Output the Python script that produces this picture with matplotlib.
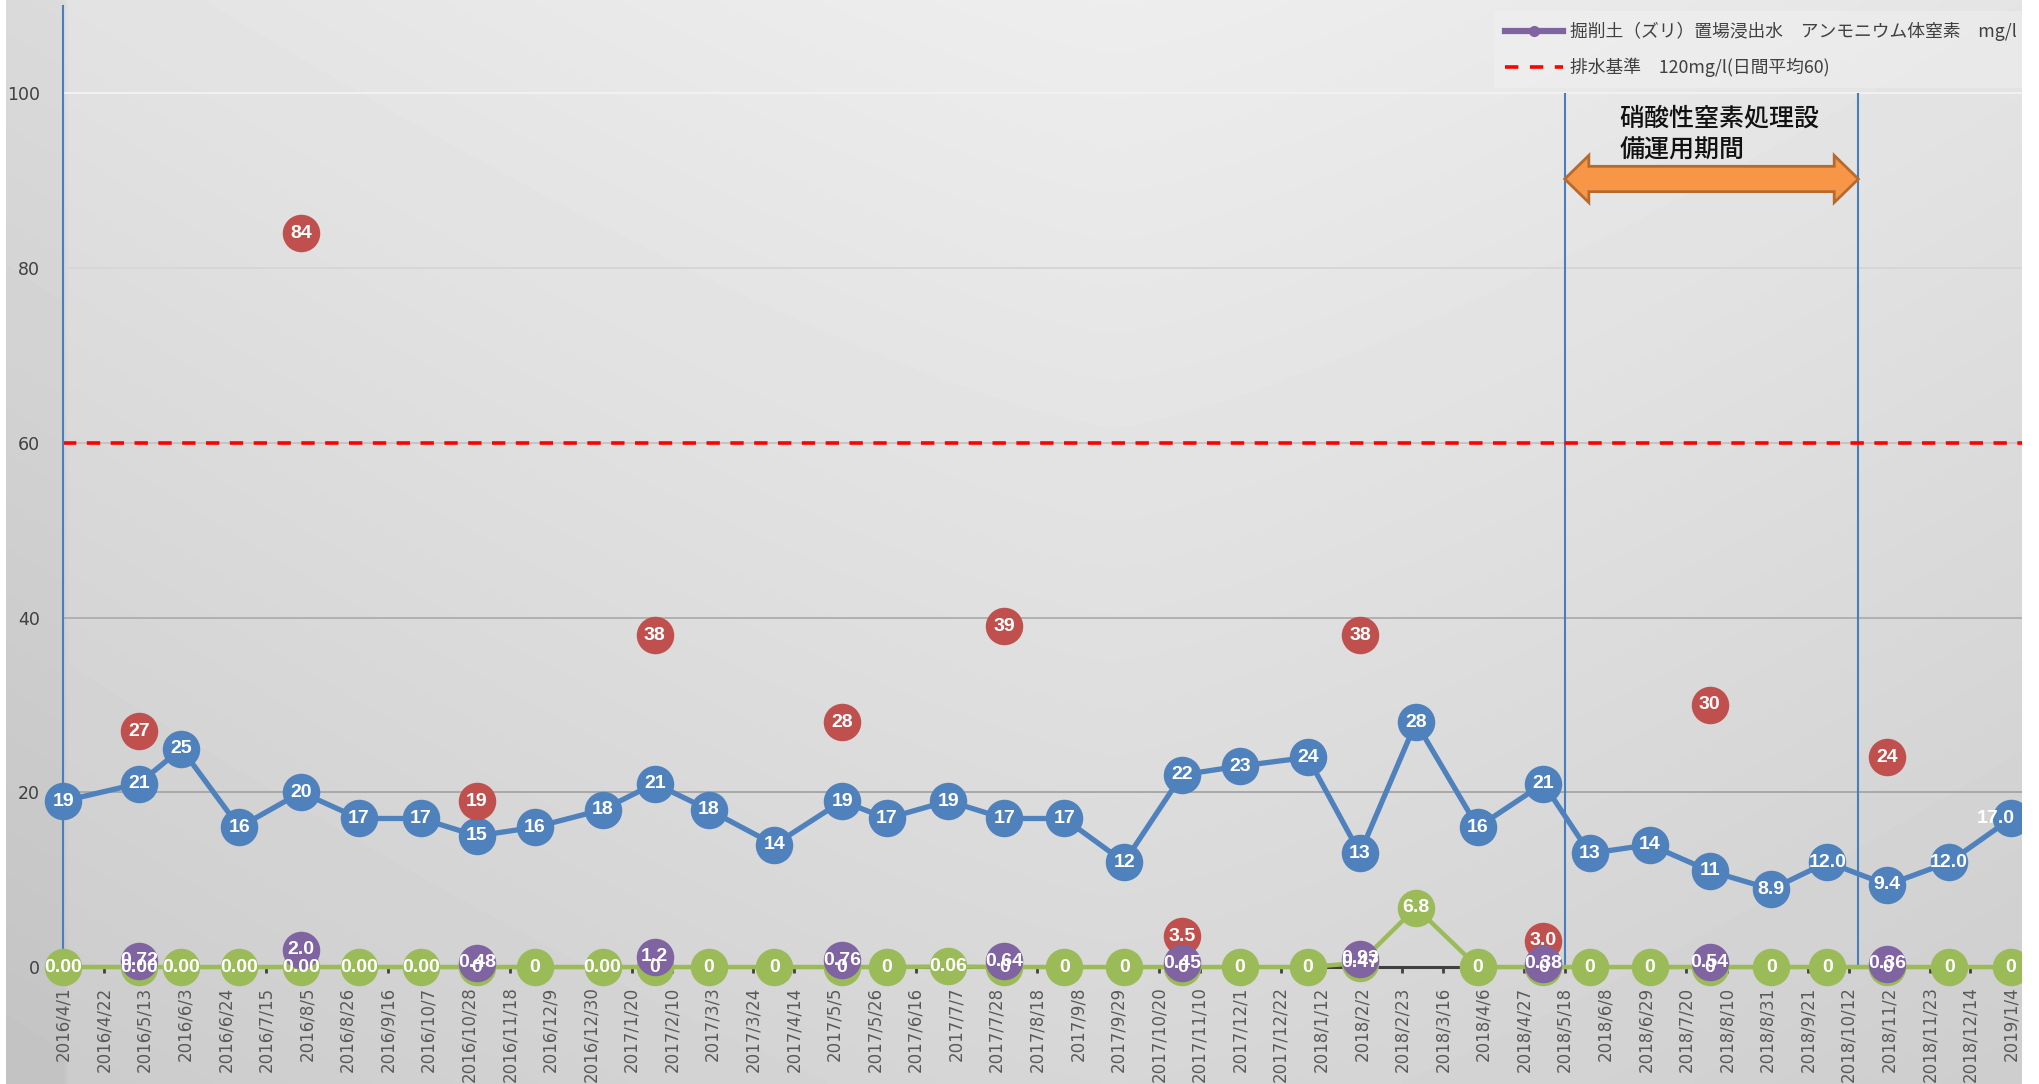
import numpy as np
import pandas as pd
import matplotlib
matplotlib.use("Agg")
import matplotlib.pyplot as plt
import matplotlib.dates as mdates
from matplotlib.patches import Polygon, Rectangle
from matplotlib.lines import Line2D
from matplotlib.ticker import FuncFormatter, FixedLocator

# monthly samples
sample_dates = [
    "2016-04-01", "2016-05-10", "2016-06-01", "2016-07-01", "2016-08-02", "2016-09-01",
    "2016-10-03", "2016-11-01", "2016-12-01", "2017-01-05", "2017-02-01", "2017-03-01",
    "2017-04-04", "2017-05-09", "2017-06-01", "2017-07-03", "2017-08-01", "2017-09-01",
    "2017-10-02", "2017-11-01", "2017-12-01", "2018-01-05", "2018-02-01", "2018-03-02",
    "2018-04-03", "2018-05-07", "2018-05-31", "2018-07-01", "2018-08-01", "2018-09-02",
    "2018-10-01", "2018-11-01", "2018-12-03", "2019-01-04",
]
blue_vals = [19, 21, 25, 16, 20, 17, 17, 15, 16, 18, 21, 18, 14, 19, 17, 19, 17, 17,
             12, 22, 23, 24, 13, 28, 16, 21, 13, 14, 11, 8.9, 12.0, 9.4, 12.0, 17.0]
blue_labels = ["19", "21", "25", "16", "20", "17", "17", "15", "16", "18", "21", "18",
               "14", "19", "17", "19", "17", "17", "12", "22", "23", "24", "13", "28",
               "16", "21", "13", "14", "11", "8.9", "12.0", "9.4", "12.0", "17.0"]
green_vals = [0, 0, 0, 0, 0, 0, 0, 0, 0, 0, 0, 0, 0, 0, 0, 0.06, 0, 0,
              0, 0, 0, 0, 0.47, 6.8, 0, 0, 0, 0, 0, 0, 0, 0, 0, 0]
green_labels = ["0.00", "0.00", "0.00", "0.00", "0.00", "0.00", "0.00", "0", "0", "0.00",
                "0", "0", "0", "0", "0", "0.06", "0", "0", "0", "0", "0", "0", "0.47",
                "6.8", "0", "0", "0", "0", "0", "0", "0", "0", "0", "0"]

# quarterly samples
quarter_dates = ["2016-05-10", "2016-08-02", "2016-11-01", "2017-02-01", "2017-05-09",
                 "2017-08-01", "2017-11-01", "2018-02-01", "2018-05-07", "2018-08-01",
                 "2018-11-01"]
purple_vals = [0.72, 2.0, 0.48, 1.2, 0.76, 0.64, 0.45, 0.93, 0.38, 0.54, 0.36]
purple_labels = ["0.72", "2.0", "0.48", "1.2", "0.76", "0.64", "0.45", "0.93", "0.38", "0.54", "0.36"]
red_vals = [27, 84, 19, 38, 28, 39, 3.5, 38, 3.0, 30, 24]
red_labels = ["27", "84", "19", "38", "28", "39", "3.5", "38", "3.0", "30", "24"]

tick_start = "2016-04-01"
tick_end = "2019-01-04"
tick_step_days = 21
limit_value = 60
period_start = "2018-05-18"
period_end = "2018-10-17"
period_level = 90.2
period_text = "硝酸性窒素処理設\n備運用期間"
legend_labels = ["掘削土（ズリ）置場浸出水　アンモニウム体窒素　mg/l",
                 "排水基準　120mg/l(日間平均60)"]

BLUE = "#4F81BD"
GREEN = "#9BBB59"
PURPLE = "#8064A2"
RED = "#C0504D"
JP = ["Noto Sans CJK JP", "DejaVu Sans"]
NUM = ["Liberation Sans Narrow", "Liberation Sans", "DejaVu Sans"]

plt.rcParams["font.family"] = ["DejaVu Sans", "Noto Sans CJK JP"]

W, H = 2040, 1084
fig = plt.figure(figsize=(W / 100, H / 100), dpi=100)
fig.patch.set_facecolor("white")

# chart-area gradient background
bx0, bx1 = 6, 2022
bg = fig.add_axes([bx0 / W, 0, (bx1 - bx0) / W, 1], zorder=-5)
gx, gy = np.meshgrid(np.linspace(0, 1, 400), np.linspace(0, 1, 200))
shade = 0.93 - 0.09 * gy - 0.10 * np.abs(gx - 0.55) ** 1.3
shade = shade - 0.03 * (gx < (63 - bx0) / (bx1 - bx0))
bg.imshow(shade, cmap="gray", vmin=0, vmax=1, aspect="auto", interpolation="bilinear")
bg.axis("off")

ax = fig.add_axes([63.5 / W, 1 - 967 / H, (bx1 - 63.5) / W, (967 - 6) / H])
ax.patch.set_alpha(0)

d_samples = pd.to_datetime(sample_dates)
d_quarter = pd.to_datetime(quarter_dates)
t0 = pd.Timestamp(tick_start)
t1 = pd.Timestamp(tick_end)
ticks = pd.date_range(t0, t1, freq=f"{tick_step_days}D")

# horizontal gridlines
grid_colors = {20: "#a8a8a8", 40: "#b0b0b0", 60: "#c4c4c4", 80: "#d6d6d6", 100: "#f2f2f2"}
for yv, c in grid_colors.items():
    ax.axhline(yv, color=c, lw=1.4, zorder=1)

# discharge standard
ax.axhline(limit_value, color="#FF0000", lw=2.6, dashes=(3.7, 2.9), zorder=2)

# treatment-period lines
ps, pe = pd.Timestamp(period_start), pd.Timestamp(period_end)
ax.vlines([ps, pe], 0, 100, color="#4A7EBB", lw=1.5, zorder=1.5)

ms = 27
ax.plot(d_samples, green_vals, color=GREEN, lw=3.2, marker="o", ms=ms, mew=0,
        zorder=3, clip_on=False)
ax.plot(d_samples, blue_vals, color=BLUE, lw=3.8, marker="o", ms=ms, mew=0,
        zorder=4, clip_on=False)
ax.plot(d_quarter, red_vals, ls="none", color=RED, marker="o", ms=ms, mew=0,
        zorder=5, clip_on=False)
ax.plot(d_quarter, purple_vals, ls="none", color=PURPLE, marker="o", ms=ms, mew=0,
        zorder=6, clip_on=False)

lbl = dict(color="white", fontsize=14, fontweight="bold", family=NUM,
           ha="center", va="center", zorder=10, clip_on=False)
for d, v, s in zip(d_samples, green_vals, green_labels):
    ax.text(d, v, s, **lbl)
for i, (d, v, s) in enumerate(zip(d_samples, blue_vals, blue_labels)):
    if i == len(blue_vals) - 1:
        ax.annotate(s, (d, v), xytext=(-11, 0), textcoords="offset points", **lbl)
    else:
        ax.text(d, v, s, **lbl)
for d, v, s in zip(d_quarter, red_vals, red_labels):
    ax.text(d, v, s, **lbl)
for d, v, s in zip(d_quarter, purple_vals, purple_labels):
    ax.text(d, v, s, **lbl)

# double-headed block arrow for the treatment period
head_d = pd.Timedelta(days=12.5)
hh, bh = 2.7, 1.45
xs = [ps, ps + head_d, ps + head_d, pe - head_d, pe - head_d, pe,
      pe - head_d, pe - head_d, ps + head_d, ps + head_d]
ys = [period_level, period_level + hh, period_level + bh, period_level + bh,
      period_level + hh, period_level, period_level - hh, period_level - bh,
      period_level - bh, period_level - hh]
arrow = Polygon(np.column_stack([mdates.date2num(xs), ys]), closed=True,
                facecolor="#F79646", edgecolor="#B66A2E", lw=2, zorder=7)
ax.add_patch(arrow)
ax.text(ps + pd.Timedelta(days=28.5), 95.3, period_text, family=JP, fontsize=18,
        fontweight="medium", color="#111111", ha="left", va="center",
        linespacing=1.3, zorder=8)

# axes
ax.set_ylim(0, 110)
ax.set_xlim(mdates.date2num(t0), mdates.date2num(t1) + 5.7)
ax.set_yticks([0, 20, 40, 60, 80, 100])
ax.xaxis.set_major_locator(FixedLocator(mdates.date2num(ticks)))
ax.xaxis.set_major_formatter(FuncFormatter(
    lambda x, p: "{0.year}/{0.month}/{0.day}".format(mdates.num2date(x))))
ax.tick_params(axis="x", rotation=90, labelsize=12, labelcolor="#595959",
               direction="out", length=4, width=2, color="#404040", pad=10)
ax.tick_params(axis="y", labelsize=12.5, labelcolor="#404040", length=0, pad=17)
for lab in ax.get_xticklabels():
    lab.set_va("top")
for s in ["top", "right"]:
    ax.spines[s].set_visible(False)
ax.spines["left"].set_color("#4A7EBB")
ax.spines["left"].set_linewidth(1.5)
ax.spines["bottom"].set_color("#404040")
ax.spines["bottom"].set_linewidth(2.2)
ax.spines["bottom"].set_zorder(2.5)

handles = [
    Line2D([], [], color=PURPLE, lw=4.5, marker="o", ms=7),
    Line2D([], [], color="#FF0000", lw=2.6, dashes=(3.7, 3.2)),
]
leg = fig.legend(handles, legend_labels, loc="upper left",
                 bbox_to_anchor=(1485 / W, 1 - 2 / H), bbox_transform=fig.transFigure,
                 prop={"family": JP, "size": 12.8}, labelcolor="#404040",
                 handlelength=3.3, handletextpad=0.4, labelspacing=0.95,
                 borderpad=0.6, fancybox=False, framealpha=0.4)
leg.get_frame().set_facecolor("#f4f4f4")
leg.get_frame().set_edgecolor("none")

# crop beyond the chart area
fig.add_artist(Rectangle((bx1 / W, 0), 1 - bx1 / W, 1, transform=fig.transFigure,
                         facecolor="white", edgecolor="none", zorder=100))

fig.savefig("out.png", dpi=100)
